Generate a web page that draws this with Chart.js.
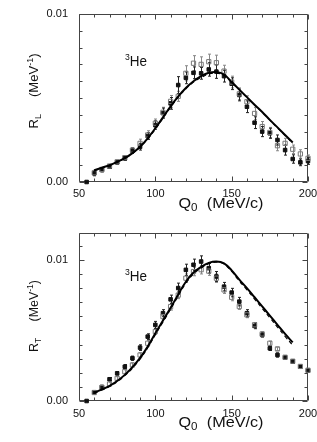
<!DOCTYPE html>
<html><head><meta charset="utf-8">
<script src="https://cdn.jsdelivr.net/npm/chart.js@4"></script>
<style>
html,body{margin:0;padding:0;background:#fff;}
#wrap{position:relative;width:317px;height:442px;overflow:hidden;background:#fff;}
.pane{position:absolute;left:0;width:317px;}
canvas{display:block;}
</style></head><body>
<div id="wrap">
<div class="pane" style="top:0;height:220px"><canvas id="cL" width="317" height="220"></canvas></div>
<div class="pane" style="top:220px;height:222px"><canvas id="cT" width="317" height="222"></canvas></div>
</div>
<script>
const Q = [55,60,65,70,75,80,85,90,95,100,105,110,115,120,125,130,135,140,145,150,155,160,165,170,175,180,185,190,195,200];
const curveQ = [60,65,70,75,80,85,90,95,100,105,110,115,120,125,130,135,140,145,150,155,160,165,170,175,180,185,190];
const rlFilled = [0,0.00052,0.00071,0.00091,0.00117,0.00141,0.00186,0.0021,0.00274,0.00339,0.0041,0.00468,0.00577,0.0062,0.0065,0.00647,0.0067,0.00657,0.0063,0.00585,0.00518,0.00448,0.00353,0.003,0.0029,0.0025,0.0019,0.00137,0.00117,0.00125];
const rlFilledErr = [0,0.00015,0.0001,0.0001,0.0001,0.00012,0.00015,0.0002,0.0002,0.00025,0.0003,0.00035,0.0005,0.00035,0.00035,0.00035,0.0004,0.0004,0.00035,0.00035,0.00035,0.00035,0.00035,0.0003,0.0003,0.0003,0.0003,0.00025,0.0002,0.0002];
const rlOpen = [null,0.00055,0.00075,0.00095,0.0012,0.00145,0.0019,0.0023,0.0028,0.0035,0.00415,0.0048,0.0051,0.00647,0.00707,0.007,0.00716,0.0071,0.0066,0.00595,0.00525,0.00478,0.00408,0.0033,0.00295,0.00216,0.0023,0.00195,0.00167,0.00141];
const rlOpenErr = [0,0.00015,0.0001,0.0001,0.0001,0.00012,0.00015,0.00025,0.00025,0.00025,0.0003,0.00035,0.0003,0.00045,0.00045,0.00045,0.00045,0.00045,0.00035,0.00035,0.00035,0.00035,0.00035,0.0003,0.0003,0.0003,0.0003,0.00025,0.00025,0.0002];
const rlTheory = [0.0007,0.00085,0.001,0.0012,0.00142,0.00172,0.0021,0.0026,0.0032,0.00385,0.0045,0.0051,0.0056,0.006,0.0063,0.0065,0.00655,0.0064,0.00595,0.0055,0.00505,0.0046,0.00417,0.0037,0.00325,0.0028,0.00235];
const rlTheory2 = [0.00068,0.00083,0.00098,0.00118,0.0014,0.0017,0.00207,0.00257,0.00315,0.0038,0.00445,0.00505,0.00555,0.00595,0.00622,0.00642,0.00648,0.00635,0.00593,0.00548,0.00503,0.00458,0.00415,0.00368,0.00322,0.00277,0.0023];
const rtFilled = [0,0.00062,0.001,0.00154,0.00196,0.00243,0.00303,0.00378,0.00456,0.00539,0.00622,0.0072,0.008,0.00929,0.00965,0.00988,0.00941,0.00882,0.0081,0.00768,0.00704,0.00622,0.00532,0.00468,0.00373,0.00326,0.00307,0.00279,0.00243,0.00215];
const rtFilledErr = [0,0.0001,0.0001,0.00012,0.00012,0.00015,0.00015,0.0002,0.0002,0.00025,0.00025,0.0003,0.00035,0.0004,0.0004,0.0004,0.00035,0.00035,0.0003,0.0003,0.0003,0.00025,0.0002,0.00015,0.00015,0.00015,0.00012,0.00012,0.0001,0.0001];
const rtOpen = [null,0.0006,0.00095,0.0012,0.0016,0.00208,0.00255,0.00326,0.00409,0.00492,0.00598,0.00669,0.0075,0.0087,0.00917,0.0093,0.0092,0.0087,0.00787,0.00735,0.00669,0.0061,0.0054,0.00475,0.00409,0.00369,0.0031,0.00282,0.00245,0.00218];
const rtOpenErr = [0,0.0001,0.0001,0.0001,0.00012,0.00012,0.00015,0.00015,0.0002,0.0002,0.0002,0.00025,0.00025,0.0003,0.0003,0.0003,0.0003,0.0003,0.00025,0.00025,0.0002,0.0002,0.00015,0.00015,0.00015,0.00012,0.00012,0.0001,0.0001,0.0001];
const rtTheory = [0.0006,0.00082,0.00108,0.00142,0.00185,0.0024,0.00305,0.00385,0.0048,0.0057,0.0066,0.00755,0.00845,0.0091,0.0095,0.00978,0.00988,0.00975,0.00925,0.0086,0.008,0.00735,0.0067,0.00605,0.0054,0.00475,0.00415];
const rtTheory2 = [0.00055,0.00078,0.00103,0.00137,0.0018,0.00233,0.00297,0.00377,0.0047,0.0056,0.0065,0.00745,0.00835,0.009,0.00942,0.00972,0.00984,0.0097,0.00918,0.0085,0.00788,0.00722,0.00656,0.0059,0.00524,0.00458,0.00395];
const xTickLabels = [50,100,150,200];
const yTickLabels = ['0.00','0.01'];
const FONT = '"Liberation Sans", Arial, Helvetica, sans-serif';
function pts(xs, ys){ return xs.map((x,i)=>({x:x, y:ys[i]})); }
function drawRich(ctx, parts, x, y, width, align){
  let total = 0;
  const ws = parts.map(p => { ctx.font = p[1]+'px '+FONT; const w = ctx.measureText(p[0]).width + (p[3]||0); total += w; return w; });
  const sx = width ? width/total : 1;
  ctx.save(); ctx.translate(x, y); ctx.scale(sx, 1);
  let cx = align === 'center' ? -total/2 : 0;
  parts.forEach((p,i)=>{ ctx.font = p[1]+'px '+FONT; ctx.fillText(p[0], cx + (p[3]||0), p[2]); cx += ws[i]; });
  ctx.restore();
}
const frameTicks = {
  id:'frameTicks',
  beforeDatasetsDraw(chart){
    const {ctx, chartArea:a, scales:{x,y}} = chart;
    ctx.save();
    ctx.strokeStyle = '#444'; ctx.lineWidth = 1;
    const L = Math.round(a.left)+0.5, R = Math.round(a.right)-0.5, T = Math.round(a.top)+0.5, B = Math.round(a.bottom)-0.5;
    ctx.beginPath(); ctx.moveTo(L,T); ctx.lineTo(R,T); ctx.lineTo(R,B); ctx.lineTo(L,B); ctx.closePath(); ctx.stroke();
    ctx.beginPath();
    x.ticks.forEach(t=>{
      const v = t.value;
      if (Math.abs(v/10 - Math.round(v/10))>1e-6) return;
      const px = Math.round(x.getPixelForValue(v))+0.5;
      const len = xTickLabels.includes(v) ? 5 : 3;
      ctx.moveTo(px,B); ctx.lineTo(px,B-len); ctx.moveTo(px,T); ctx.lineTo(px,T+len);
    });
    y.ticks.forEach(t=>{
      const v = t.value;
      if (Math.abs(v/0.001 - Math.round(v/0.001))>1e-6) return;
      const py = Math.round(y.getPixelForValue(v))+0.5;
      const lab = Math.abs(v)<1e-9 || Math.abs(v-0.01)<1e-9;
      const len = lab ? 5 : 3;
      ctx.moveTo(L,py); ctx.lineTo(L+len,py); ctx.moveTo(R,py); ctx.lineTo(R-len,py);
    });
    ctx.stroke();
    chart.data.datasets.forEach((ds,i)=>{
      if (!ds.errors) return;
      const meta = chart.getDatasetMeta(i);
      ctx.strokeStyle = ds.errColor; ctx.lineWidth = 1;
      ctx.beginPath();
      meta.data.forEach((el,j)=>{
        const v = ds.data[j].y, e = ds.errors[j];
        if (v == null || !e) return;
        const px = Math.round(el.x)+0.5;
        const y1 = y.getPixelForValue(v+e), y2 = y.getPixelForValue(v-e);
        ctx.moveTo(px,y1); ctx.lineTo(px,y2);
        ctx.moveTo(px-1.5,y1); ctx.lineTo(px+1.5,y1);
        ctx.moveTo(px-1.5,y2); ctx.lineTo(px+1.5,y2);
      });
      ctx.stroke();
    });
    ctx.restore();
  }
};
const labels = {
  id:'labels',
  afterDraw(chart, args, o){
    const ctx = chart.ctx;
    ctx.save();
    ctx.fillStyle = '#111'; ctx.textBaseline = 'alphabetic';
    drawRich(ctx, [['Q',14,0],['0',10,3],['(MeV/c)',14,0,8]], o.xtX, o.xtY, 85, 'center');
    ctx.save(); ctx.translate(o.ytX, o.ytY); ctx.rotate(-Math.PI/2);
    drawRich(ctx, [['R',13,0],[o.sub,9,3],['(MeV',13,0,17],['-1',9,-5],[')',13,0]], 0, 4.5, o.ytLen, 'center');
    ctx.restore();
    drawRich(ctx, [['3',9,-6],['He',14,0]], o.heX, o.heY, 22, 'left');
    ctx.restore();
  }
};
function makeChart(id, d){
  new Chart(document.getElementById(id), {
    type:'scatter',
    data:{ datasets:[
      {data: pts(curveQ, d.theory), showLine:true, borderColor:'#000', borderWidth:2, pointRadius:0, tension:0.4, fill:false},
      {data: pts(curveQ, d.theory2), showLine:true, borderColor:'#000', borderWidth:1.2, borderDash:[4,3], pointRadius:0, tension:0.4, fill:false},
      {data: pts(Q, d.open), pointStyle:'rect', pointRadius:3, borderColor:'#777', backgroundColor:'rgba(255,255,255,0)', borderWidth:1, errors:d.openErr, errColor:'#888', clip:false},
      {data: pts(Q, d.filled), pointStyle:'rect', pointRadius:2.5, borderColor:'#111', backgroundColor:'#111', borderWidth:1, errors:d.filledErr, errColor:'#222', clip:false}
    ]},
    options:{
      responsive:false, animation:false, devicePixelRatio:1,
      layout:{padding:{left:0,right:9,top:d.padTop,bottom:0}},
      plugins:{legend:{display:false}, tooltip:{enabled:false}, labels:d.lab},
      scales:{
        x:{type:'linear', min:50, max:200,
          ticks:{stepSize:10, autoSkip:false, maxRotation:0, minRotation:0, padding:d.xPad, color:'#111', font:{family:FONT, size:11},
            callback:(v)=> xTickLabels.includes(v) ? String(v) : ''},
          grid:{display:false, drawTicks:false, tickLength:0}, border:{display:false},
          afterFit(s){ s.height = d.xH; s.paddingLeft = 0; s.paddingRight = 0; }},
        y:{type:'linear', min:0, max:d.yMax,
          ticks:{stepSize:0.001, autoSkip:false, padding:11, color:'#111', font:{family:FONT, size:11},
            callback:(v)=> Math.abs(v)<1e-9 ? yTickLabels[0] : (Math.abs(v-0.01)<1e-9 ? yTickLabels[1] : '')},
          grid:{display:false, drawTicks:false, tickLength:0}, border:{display:false},
          afterFit(s){ s.width = 79; s.paddingTop = 0; s.paddingBottom = 0; }}
      }
    },
    plugins:[frameTicks, labels]
  });
}
makeChart('cL', {theory:rlTheory, theory2:rlTheory2, open:rlOpen, openErr:rlOpenErr, filled:rlFilled, filledErr:rlFilledErr,
  padTop:14, xH:38, xPad:5, yMax:0.01,
  lab:{xtX:221, xtY:208, ytX:33, ytY:91, ytLen:75, sub:'L', heX:125, heY:66}});
makeChart('cT', {theory:rtTheory, theory2:rtTheory2, open:rtOpen, openErr:rtOpenErr, filled:rtFilled, filledErr:rtFilledErr,
  padTop:13, xH:41, xPad:6, yMax:0.0119,
  lab:{xtX:221, xtY:207, ytX:33, ytY:96, ytLen:72, sub:'T', heX:125, heY:61}});
</script>
</body></html>
